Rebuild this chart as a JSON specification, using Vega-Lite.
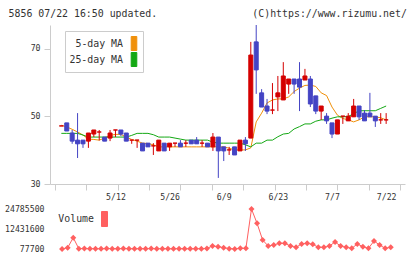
{
  "$schema": "https://vega.github.io/schema/vega-lite/v6.json",
  "padding": {"left": 4, "top": 8, "right": 5, "bottom": 5},
  "background": "#ffffff",
  "title": {
    "text": "5856 07/22 16:50 updated.\u00a0\u00a0\u00a0\u00a0\u00a0\u00a0\u00a0\u00a0\u00a0\u00a0\u00a0\u00a0\u00a0\u00a0\u00a0\u00a0(C)https://www.rizumu.net/",
    "anchor": "start",
    "font": "DejaVu Sans Mono",
    "fontSize": 9.9,
    "fontWeight": "normal",
    "color": "#333333",
    "offset": 6,
    "dx": 4
  },
  "datasets": {
    "candles": [
      {"k":0,"o":47.2,"h":47.2,"l":47.2,"c":47.2},
      {"k":1,"o":48.1,"h":48.1,"l":45.7,"c":45.7},
      {"k":2,"o":45.1,"h":46.0,"l":41.9,"c":42.7},
      {"k":3,"o":43.0,"h":51.0,"l":37.7,"c":41.9},
      {"k":4,"o":43.0,"h":43.0,"l":40.7,"c":41.9},
      {"k":5,"o":42.7,"h":45.1,"l":40.7,"c":45.1},
      {"k":6,"o":44.8,"h":46.0,"l":43.9,"c":46.0},
      {"k":7,"o":45.4,"h":46.0,"l":42.9,"c":45.4},
      {"k":8,"o":43.9,"h":43.9,"l":42.7,"c":42.7},
      {"k":9,"o":43.6,"h":46.0,"l":42.7,"c":45.1},
      {"k":10,"o":46.0,"h":46.0,"l":43.9,"c":46.0},
      {"k":11,"o":46.0,"h":46.0,"l":44.2,"c":44.8},
      {"k":12,"o":45.1,"h":45.1,"l":42.7,"c":42.7},
      {"k":13,"o":43.0,"h":43.0,"l":41.9,"c":43.0},
      {"k":14,"o":43.0,"h":43.0,"l":40.7,"c":43.0},
      {"k":15,"o":42.1,"h":42.1,"l":39.8,"c":39.8},
      {"k":16,"o":42.1,"h":42.1,"l":41.0,"c":41.0},
      {"k":17,"o":41.3,"h":42.1,"l":38.6,"c":41.3},
      {"k":18,"o":39.8,"h":43.0,"l":39.8,"c":43.0},
      {"k":19,"o":42.1,"h":42.1,"l":39.8,"c":39.8},
      {"k":20,"o":41.0,"h":42.1,"l":39.8,"c":42.1},
      {"k":21,"o":42.1,"h":42.1,"l":41.0,"c":42.1},
      {"k":22,"o":42.1,"h":43.0,"l":41.0,"c":41.0},
      {"k":23,"o":42.1,"h":43.0,"l":41.0,"c":42.1},
      {"k":24,"o":43.0,"h":43.0,"l":41.9,"c":41.9},
      {"k":25,"o":43.0,"h":43.9,"l":41.9,"c":41.9},
      {"k":26,"o":42.1,"h":43.0,"l":41.0,"c":42.1},
      {"k":27,"o":42.1,"h":42.1,"l":41.0,"c":41.0},
      {"k":28,"o":41.0,"h":45.1,"l":39.8,"c":43.9},
      {"k":29,"o":43.9,"h":43.9,"l":31.8,"c":39.8},
      {"k":30,"o":41.0,"h":41.0,"l":36.8,"c":39.8},
      {"k":31,"o":40.1,"h":41.0,"l":38.6,"c":40.1},
      {"k":32,"o":41.0,"h":41.0,"l":38.6,"c":38.6},
      {"k":33,"o":39.8,"h":43.0,"l":39.8,"c":43.0},
      {"k":34,"o":43.0,"h":43.9,"l":39.8,"c":41.9},
      {"k":35,"o":43.6,"h":72.1,"l":43.6,"c":68.2},
      {"k":36,"o":72.1,"h":77.1,"l":56.7,"c":63.8},
      {"k":37,"o":57.0,"h":58.1,"l":52.8,"c":52.8},
      {"k":38,"o":53.1,"h":55.2,"l":50.7,"c":51.6},
      {"k":39,"o":51.9,"h":59.9,"l":50.7,"c":51.9},
      {"k":40,"o":55.8,"h":62.0,"l":51.6,"c":57.0},
      {"k":41,"o":54.9,"h":66.1,"l":54.9,"c":62.0},
      {"k":42,"o":59.6,"h":61.1,"l":56.7,"c":61.1},
      {"k":43,"o":61.1,"h":61.1,"l":56.7,"c":59.6},
      {"k":44,"o":61.1,"h":66.1,"l":51.6,"c":58.7},
      {"k":45,"o":60.8,"h":64.1,"l":60.8,"c":62.0},
      {"k":46,"o":61.1,"h":62.0,"l":52.8,"c":53.7},
      {"k":47,"o":56.1,"h":56.1,"l":50.7,"c":51.6},
      {"k":48,"o":51.6,"h":53.1,"l":49.0,"c":53.1},
      {"k":49,"o":50.1,"h":51.0,"l":47.8,"c":48.7},
      {"k":50,"o":48.1,"h":48.1,"l":43.6,"c":44.8},
      {"k":51,"o":44.8,"h":49.0,"l":44.8,"c":49.0},
      {"k":52,"o":50.1,"h":50.1,"l":47.8,"c":50.1},
      {"k":53,"o":48.7,"h":51.0,"l":48.7,"c":50.1},
      {"k":54,"o":49.9,"h":55.2,"l":49.9,"c":53.1},
      {"k":55,"o":53.1,"h":53.1,"l":49.0,"c":49.9},
      {"k":56,"o":51.0,"h":51.9,"l":48.7,"c":48.7},
      {"k":57,"o":51.0,"h":57.0,"l":49.9,"c":49.9},
      {"k":58,"o":50.1,"h":50.1,"l":46.9,"c":48.7},
      {"k":59,"o":49.0,"h":51.0,"l":47.8,"c":49.0},
      {"k":60,"o":49.0,"h":51.0,"l":47.8,"c":49.0}
    ],
    "ma": [
      {"k":0,"s":"5-day MA","v":47.4},{"k":1,"s":"5-day MA","v":46.9},{"k":2,"s":"5-day MA","v":46.2},{"k":3,"s":"5-day MA","v":45.4},
      {"k":4,"s":"5-day MA","v":44.5},{"k":5,"s":"5-day MA","v":43.3},{"k":6,"s":"5-day MA","v":43.2},{"k":7,"s":"5-day MA","v":43.0},
      {"k":8,"s":"5-day MA","v":43.6},{"k":9,"s":"5-day MA","v":44.4},{"k":10,"s":"5-day MA","v":44.7},{"k":11,"s":"5-day MA","v":44.7},
      {"k":12,"s":"5-day MA","v":43.9},{"k":13,"s":"5-day MA","v":43.2},{"k":14,"s":"5-day MA","v":42.7},{"k":15,"s":"5-day MA","v":42.1},
      {"k":16,"s":"5-day MA","v":42.0},{"k":17,"s":"5-day MA","v":41.6},{"k":18,"s":"5-day MA","v":41.0},{"k":19,"s":"5-day MA","v":41.0},
      {"k":20,"s":"5-day MA","v":41.0},{"k":21,"s":"5-day MA","v":41.0},{"k":22,"s":"5-day MA","v":41.0},{"k":23,"s":"5-day MA","v":41.0},
      {"k":24,"s":"5-day MA","v":41.0},{"k":25,"s":"5-day MA","v":41.0},{"k":26,"s":"5-day MA","v":41.0},{"k":27,"s":"5-day MA","v":41.0},
      {"k":28,"s":"5-day MA","v":41.0},{"k":29,"s":"5-day MA","v":41.0},{"k":30,"s":"5-day MA","v":41.0},{"k":31,"s":"5-day MA","v":40.6},
      {"k":32,"s":"5-day MA","v":40.1},{"k":33,"s":"5-day MA","v":40.1},{"k":34,"s":"5-day MA","v":40.1},{"k":35,"s":"5-day MA","v":40.7},
      {"k":36,"s":"5-day MA","v":48.4},{"k":37,"s":"5-day MA","v":51.0},{"k":38,"s":"5-day MA","v":54.0},{"k":39,"s":"5-day MA","v":54.9},
      {"k":40,"s":"5-day MA","v":55.2},{"k":41,"s":"5-day MA","v":55.2},{"k":42,"s":"5-day MA","v":55.8},{"k":43,"s":"5-day MA","v":57.4},
      {"k":44,"s":"5-day MA","v":58.4},{"k":45,"s":"5-day MA","v":59.2},{"k":46,"s":"5-day MA","v":59.3},{"k":47,"s":"5-day MA","v":58.9},
      {"k":48,"s":"5-day MA","v":57.0},{"k":49,"s":"5-day MA","v":56.2},{"k":50,"s":"5-day MA","v":52.8},{"k":51,"s":"5-day MA","v":50.4},
      {"k":52,"s":"5-day MA","v":49.4},{"k":53,"s":"5-day MA","v":49.0},{"k":54,"s":"5-day MA","v":48.4},{"k":55,"s":"5-day MA","v":49.0},
      {"k":56,"s":"5-day MA","v":49.9},{"k":57,"s":"5-day MA","v":49.9},{"k":58,"s":"5-day MA","v":49.9},{"k":59,"s":"5-day MA","v":49.6},
      {"k":60,"s":"5-day MA","v":49.0},
      {"k":0,"s":"25-day MA","v":45.0},{"k":1,"s":"25-day MA","v":45.0},{"k":2,"s":"25-day MA","v":45.0},{"k":3,"s":"25-day MA","v":45.0},
      {"k":4,"s":"25-day MA","v":44.5},{"k":5,"s":"25-day MA","v":43.9},{"k":6,"s":"25-day MA","v":43.9},{"k":7,"s":"25-day MA","v":43.9},
      {"k":8,"s":"25-day MA","v":43.9},{"k":9,"s":"25-day MA","v":43.9},{"k":10,"s":"25-day MA","v":43.9},{"k":11,"s":"25-day MA","v":43.9},
      {"k":12,"s":"25-day MA","v":43.9},{"k":13,"s":"25-day MA","v":44.4},{"k":14,"s":"25-day MA","v":45.0},{"k":15,"s":"25-day MA","v":45.0},
      {"k":16,"s":"25-day MA","v":45.0},{"k":17,"s":"25-day MA","v":44.6},{"k":18,"s":"25-day MA","v":43.9},{"k":19,"s":"25-day MA","v":43.9},
      {"k":20,"s":"25-day MA","v":43.9},{"k":21,"s":"25-day MA","v":43.6},{"k":22,"s":"25-day MA","v":43.3},{"k":23,"s":"25-day MA","v":43.0},
      {"k":24,"s":"25-day MA","v":43.0},{"k":25,"s":"25-day MA","v":43.0},{"k":26,"s":"25-day MA","v":43.0},{"k":27,"s":"25-day MA","v":43.0},
      {"k":28,"s":"25-day MA","v":42.4},{"k":29,"s":"25-day MA","v":42.1},{"k":30,"s":"25-day MA","v":42.1},{"k":31,"s":"25-day MA","v":42.1},
      {"k":32,"s":"25-day MA","v":42.1},{"k":33,"s":"25-day MA","v":42.1},{"k":34,"s":"25-day MA","v":41.6},{"k":35,"s":"25-day MA","v":41.0},
      {"k":36,"s":"25-day MA","v":42.1},{"k":37,"s":"25-day MA","v":42.1},{"k":38,"s":"25-day MA","v":43.0},{"k":39,"s":"25-day MA","v":43.0},
      {"k":40,"s":"25-day MA","v":44.0},{"k":41,"s":"25-day MA","v":44.8},{"k":42,"s":"25-day MA","v":45.0},{"k":43,"s":"25-day MA","v":46.3},
      {"k":44,"s":"25-day MA","v":47.0},{"k":45,"s":"25-day MA","v":47.8},{"k":46,"s":"25-day MA","v":47.8},{"k":47,"s":"25-day MA","v":48.6},
      {"k":48,"s":"25-day MA","v":49.0},{"k":49,"s":"25-day MA","v":49.0},{"k":50,"s":"25-day MA","v":49.5},{"k":51,"s":"25-day MA","v":49.9},
      {"k":52,"s":"25-day MA","v":49.9},{"k":53,"s":"25-day MA","v":50.0},{"k":54,"s":"25-day MA","v":50.8},{"k":55,"s":"25-day MA","v":51.7},
      {"k":56,"s":"25-day MA","v":51.7},{"k":57,"s":"25-day MA","v":51.7},{"k":58,"s":"25-day MA","v":51.7},{"k":59,"s":"25-day MA","v":52.4},
      {"k":60,"s":"25-day MA","v":53.1}
    ],
    "vol": [
      {"k":1,"v":77700},{"k":2,"v":880000},{"k":3,"v":7060000},{"k":4,"v":300000},{"k":5,"v":350000},
      {"k":6,"v":250000},{"k":7,"v":300000},{"k":8,"v":200000},{"k":9,"v":350000},{"k":10,"v":300000},
      {"k":11,"v":250000},{"k":12,"v":350000},{"k":13,"v":300000},{"k":14,"v":200000},{"k":15,"v":300000},
      {"k":16,"v":250000},{"k":17,"v":350000},{"k":18,"v":200000},{"k":19,"v":300000},{"k":20,"v":250000},
      {"k":21,"v":200000},{"k":22,"v":300000},{"k":23,"v":250000},{"k":24,"v":200000},{"k":25,"v":250000},
      {"k":26,"v":300000},{"k":27,"v":350000},{"k":28,"v":2000000},{"k":29,"v":1500000},{"k":30,"v":880000},
      {"k":31,"v":300000},{"k":32,"v":150000},{"k":33,"v":510000},{"k":34,"v":510000},{"k":35,"v":24785500},
      {"k":36,"v":15950000},{"k":37,"v":5640000},{"k":38,"v":1930000},{"k":39,"v":2550000},{"k":40,"v":3600000},
      {"k":41,"v":3600000},{"k":42,"v":1930000},{"k":43,"v":1130000},{"k":44,"v":3170000},{"k":45,"v":3600000},
      {"k":46,"v":2980000},{"k":47,"v":1130000},{"k":48,"v":1130000},{"k":49,"v":1930000},{"k":50,"v":4400000},
      {"k":51,"v":1930000},{"k":52,"v":1130000},{"k":53,"v":510000},{"k":54,"v":3170000},{"k":55,"v":1500000},
      {"k":56,"v":510000},{"k":57,"v":5020000},{"k":58,"v":2550000},{"k":59,"v":510000},{"k":60,"v":1130000}
    ]
  },
  "spacing": 25,
  "bounds": "flush",
  "resolve": {
    "scale": {"color": "independent", "x": "independent", "y": "independent"},
    "legend": {"color": "independent"},
    "axis": {"x": "independent", "y": "independent"}
  },
  "vconcat": [
    {
      "width": 355,
      "height": 159,
      "layer": [
        {
          "data": {"name": "ma"},
          "mark": {"type": "line", "strokeWidth": 1},
          "encoding": {
            "x": {
              "field": "k", "type": "quantitative",
              "scale": {"domain": [-1.17, 62.56], "nice": false, "zero": false},
              "axis": {
                "values": [-1.17, 4.6236, 10, 10.4173, 16.2109, 20, 22.0045, 27.7982, 30, 33.5918, 39.3855, 40, 45.1791, 50, 50.9727, 56.7664, 60, 62.56],
                "tickCount": 100,
                "labelExpr": "datum.value == 10 ? '5/12' : datum.value == 20 ? '5/26' : datum.value == 30 ? '6/9' : datum.value == 40 ? '6/23' : datum.value == 50 ? '7/7' : datum.value == 60 ? '7/22' : ''",
                "tickOpacity": {"condition": {"test": "datum.value % 10 == 0", "value": 0}, "value": 1},
                "grid": false, "title": null,
                "domainColor": "#cccccc", "tickColor": "#cccccc", "tickSize": 6,
                "labelPadding": 3, "labelOverlap": false, "labelFlush": false,
                "labelFont": "DejaVu Sans Mono", "labelFontSize": 8.2, "labelColor": "#333333"
              }
            },
            "y": {
              "field": "v", "type": "quantitative",
              "scale": {"domain": [30, 77.1], "nice": false, "zero": false},
              "axis": {
                "values": [30, 40, 50, 60, 70],
                "grid": false, "title": null,
                "domainColor": "#cccccc", "tickColor": "#cccccc", "tickSize": 6,
                "labelPadding": 4,
                "labelFont": "DejaVu Sans Mono", "labelFontSize": 8.2, "labelColor": "#333333"
              }
            },
            "color": {
              "field": "s", "type": "nominal",
              "scale": {"domain": ["5-day MA", "25-day MA"], "range": ["#f0900a", "#14a814"]},
              "legend": {
                "title": null, "orient": "none", "legendX": 15, "legendY": 6,
                "direction": "vertical",
                "symbolType": "M-0.4,-1H0.4V1H-0.4Z", "symbolSize": 196, "symbolStrokeWidth": 1,
                "labelAlign": "right", "labelOffset": -18.5, "symbolOffset": 56.5,
                "padding": 5, "rowPadding": 1,
                "strokeColor": "#cccccc", "fillColor": "#ffffff",
                "labelFont": "DejaVu Sans Mono", "labelFontSize": 9.9, "labelColor": "#333333",
                "encode": {
                  "symbols": {
                    "update": {
                      "fill": {"signal": "datum.value == '5-day MA' ? '#f0900a' : '#14a814'"},
                      "fillOpacity": {"value": 1},
                      "stroke": {"value": "#333333"},
                      "strokeWidth": {"value": 1},
                      "strokeJoin": {"value": "round"}
                    }
                  }
                }
              }
            }
          }
        },
        {
          "data": {"name": "candles"},
          "mark": {"type": "rule", "strokeWidth": 1},
          "encoding": {
            "x": {"field": "k", "type": "quantitative"},
            "y": {"field": "l", "type": "quantitative"},
            "y2": {"field": "h"},
            "color": {"condition": {"test": "datum.c >= datum.o", "value": "#d40000"}, "value": "#4444c4"}
          }
        },
        {
          "data": {"name": "candles"},
          "mark": {"type": "bar", "size": 4, "strokeWidth": 1},
          "encoding": {
            "x": {"field": "k", "type": "quantitative"},
            "y": {"field": "o", "type": "quantitative"},
            "y2": {"field": "c"},
            "color": {"condition": {"test": "datum.c >= datum.o", "value": "#d40000"}, "value": "#4444c4"},
            "stroke": {"condition": {"test": "datum.c >= datum.o", "value": "#d40000"}, "value": "#4444c4"}
          }
        }
      ]
    },
    {
      "width": 355,
      "height": 40,
      "data": {"name": "vol"},
      "mark": {"type": "line", "strokeWidth": 1, "point": {"filled": true, "shape": "diamond", "size": 36}},
      "encoding": {
        "x": {
          "field": "k", "type": "quantitative",
          "scale": {"domain": [-1.17, 62.56], "nice": false, "zero": false},
          "axis": null
        },
        "y": {
          "field": "v", "type": "quantitative",
          "scale": {"domain": [77700, 24785500], "nice": false, "zero": false},
          "axis": {
            "values": [77700, 12431600, 24785500], "format": "d",
            "domain": false, "ticks": false, "grid": false, "title": null,
            "labelPadding": 6,
            "labelFont": "DejaVu Sans Mono", "labelFontSize": 8.2, "labelColor": "#333333"
          }
        },
        "color": {
          "datum": "Volume",
          "scale": {"range": ["#ff6060"]},
          "legend": {
            "title": null, "orient": "none", "legendX": 4, "legendY": 2,
            "symbolType": "M-0.4,-1H0.4V1H-0.4Z", "symbolSize": 225, "symbolStrokeWidth": 1,
            "labelAlign": "right", "labelOffset": -18.5, "symbolOffset": 42.5,
            "padding": 0,
            "labelFont": "DejaVu Sans Mono", "labelFontSize": 9.9, "labelColor": "#333333",
            "encode": {
              "symbols": {
                "update": {
                  "fill": {"value": "#ff6060"},
                  "fillOpacity": {"value": 1},
                  "stroke": {"value": "#333333"},
                  "strokeWidth": {"value": 1},
                  "strokeJoin": {"value": "round"}
                }
              }
            }
          }
        }
      }
    }
  ],
  "config": {
    "view": {"stroke": null},
    "axis": {"domainWidth": 1, "tickWidth": 1}
  }
}
